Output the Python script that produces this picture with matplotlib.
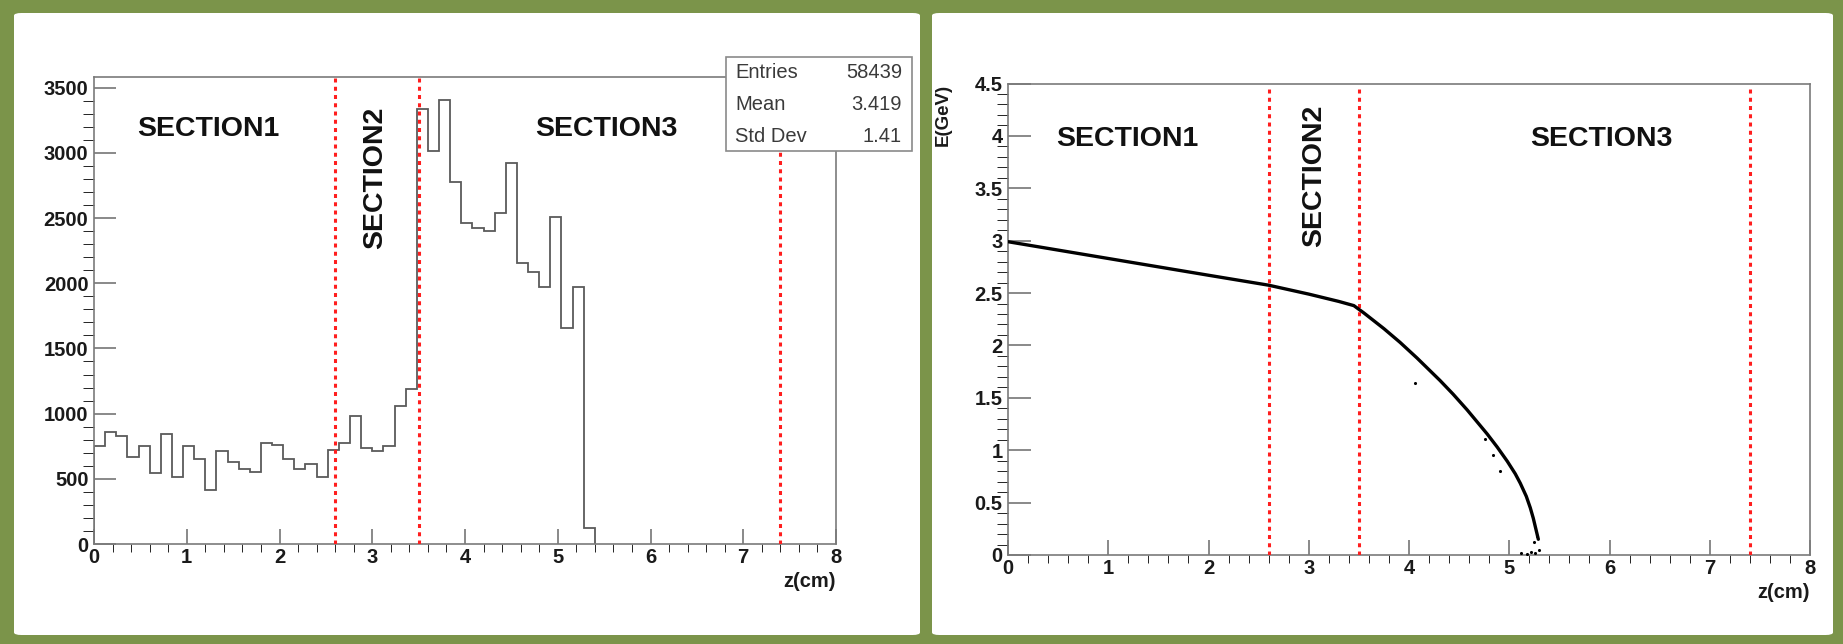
import matplotlib
matplotlib.use("Agg")
import matplotlib.pyplot as plt
import numpy as np
from matplotlib.patches import FancyBboxPatch, Rectangle
from matplotlib.ticker import MultipleLocator, FuncFormatter

plt.rcParams['font.family'] = ['Liberation Sans', 'DejaVu Sans']

# z-distribution histogram (bin width 0.12 cm, starting at 0)
bin_width = 0.12
counts = [750, 860, 825, 670, 755, 545, 840, 515, 755, 650,
          415, 715, 630, 575, 550, 775, 760, 655, 575, 612,
          512, 718, 775, 985, 740, 713, 755, 1060, 1190, 3334,
          3014, 3406, 2779, 2465, 2421, 2404, 2542, 2920, 2158, 2089,
          1974, 2511, 1654, 1969, 120]
stat_names = ["Entries", "Mean", "Std Dev"]
stat_values = ["58439", "3.419", "1.41"]

# energy along the track
track_z = [0.0, 0.5, 1.0, 1.5, 2.0, 2.6, 3.0, 3.3, 3.45, 3.55, 3.75, 3.91, 4.08,
           4.31, 4.44, 4.58, 4.78, 4.88, 4.98, 5.06, 5.11, 5.17, 5.21, 5.24, 5.27, 5.29]
track_e = [2.99, 2.91, 2.83, 2.75, 2.67, 2.575, 2.49, 2.42, 2.38, 2.31, 2.16, 2.03, 1.88,
           1.665, 1.535, 1.385, 1.155, 1.03, 0.895, 0.775, 0.685, 0.56, 0.45, 0.35, 0.23, 0.15]
stray_z = [4.06, 4.84, 4.91, 4.76, 5.12, 5.18, 5.22, 5.26, 5.30, 5.28, 5.25]
stray_e = [1.64, 0.95, 0.80, 1.11, 0.02, 0.01, 0.03, 0.02, 0.05, 0.18, 0.12]

section_edges = [2.6, 3.5, 7.4]
section_names = ["SECTION1", "SECTION2", "SECTION3"]

GREEN = '#7b944a'
RED = '#ff1e1e'
GREY = '#6a6a6a'
W, H = 1843, 644


def fx(x):
    return x / W


def fy(y):
    return 1 - y / H


def style_axis(ax, xmaj, xmin, ymaj, ymin, ylen):
    ax.set_xlim(0, 8)
    ax.xaxis.set_major_locator(MultipleLocator(xmaj))
    ax.xaxis.set_minor_locator(MultipleLocator(xmin))
    ax.yaxis.set_major_locator(MultipleLocator(ymaj))
    ax.yaxis.set_minor_locator(MultipleLocator(ymin))
    ax.xaxis.set_major_formatter(FuncFormatter(lambda v, p: '%g' % v))
    ax.yaxis.set_major_formatter(FuncFormatter(lambda v, p: '%g' % v))
    ax.tick_params(direction='in', color=GREY, width=1.1, labelsize=14.5,
                   labelcolor='#1a1a1a')
    ax.tick_params(axis='x', which='major', length=10.8, pad=3)
    ax.tick_params(axis='x', which='minor', length=5.4)
    ax.tick_params(axis='y', which='major', length=ylen, pad=4)
    ax.tick_params(axis='y', which='minor', length=ylen / 2)
    for lab in ax.get_xticklabels() + ax.get_yticklabels():
        lab.set_fontweight('bold')
    for sp in ax.spines.values():
        sp.set_color('#7a7a7a')
        sp.set_linewidth(1.2)


fig = plt.figure(figsize=(W / 100, H / 100), dpi=100, facecolor=GREEN)

# white panels on the green board, kept underneath the axes
for x0, x1 in [(14, 920), (932, 1833)]:
    fig.patches.append(FancyBboxPatch((fx(x0), fy(635)), (x1 - x0) / W, (635 - 13) / H,
                                      boxstyle='round,pad=0,rounding_size=0.004',
                                      transform=fig.transFigure, fc='white', ec='none',
                                      zorder=-5))

# left: histogram
ax1 = fig.add_axes([fx(94), fy(544), (836 - 94) / W, (544 - 77) / H], zorder=1)
edges = np.arange(len(counts) + 1) * bin_width
ax1.stairs(counts, edges, baseline=0, color='#5a5a5a', lw=1.3)
ax1.set_ylim(0, 3582)
for x in section_edges:
    ax1.axvline(x, color=RED, lw=2.2, linestyle=(0, (1.3, 1.4)), zorder=3)
style_axis(ax1, 1, 0.2, 500, 100, 15.5)
txt = dict(fontsize=20.5, fontweight='bold', color='#111111', ha='center', va='center')
ax1.text(1.23, 3183, section_names[0], **txt)
ax1.text(3.03, 2807, section_names[1], rotation=90, **txt)
ax1.text(5.52, 3183, section_names[2], **txt)
ax1.text(1.0, -0.081, 'z(cm)', transform=ax1.transAxes, ha='right', va='center',
         fontsize=14.5, fontweight='bold', color='#1a1a1a')

# statistics box
fig.add_artist(Rectangle((fx(726), fy(151)), 186 / W, 94 / H, transform=fig.transFigure,
                         fc='white', ec='#8a8a8a', lw=1.2, zorder=5))
for i, (name, val) in enumerate(zip(stat_names, stat_values)):
    yy = fy(72.7 + i * 32)
    fig.text(fx(735), yy, name, ha='left', va='center', fontsize=14.5, color='#3a3a3a', zorder=6)
    fig.text(fx(902), yy, val, ha='right', va='center', fontsize=14.5, color='#3a3a3a', zorder=6)

# right: energy vs depth
ax2 = fig.add_axes([fx(1008), fy(555), (1810 - 1008) / W, (555 - 83.5) / H], zorder=1)
ax2.plot(track_z, track_e, color='black', lw=2.4, solid_capstyle='round',
         solid_joinstyle='round', zorder=4)
ax2.scatter(stray_z, stray_e, s=5, color='black', zorder=4, linewidths=0)
ax2.set_ylim(0, 4.5)
ax2.vlines(section_edges, 0, 4.45, color=RED, lw=2.2, linestyle=(0, (1.3, 1.4)), zorder=3)
style_axis(ax2, 1, 0.2, 0.5, 0.1, 16.5)
ax2.text(1.19, 3.975, section_names[0], **txt)
ax2.text(3.05, 3.62, section_names[1], rotation=90, **txt)
ax2.text(5.92, 3.975, section_names[2], **txt)
ax2.text(1.0, -0.0785, 'z(cm)', transform=ax2.transAxes, ha='right', va='center',
         fontsize=14.5, fontweight='bold', color='#1a1a1a')
ax2.text(-0.081, 1.0, 'E(GeV)', transform=ax2.transAxes, rotation=90, ha='center', va='top',
         fontsize=13.5, fontweight='bold', color='#1a1a1a')

fig.savefig('out.png', dpi=100, facecolor=GREEN)
